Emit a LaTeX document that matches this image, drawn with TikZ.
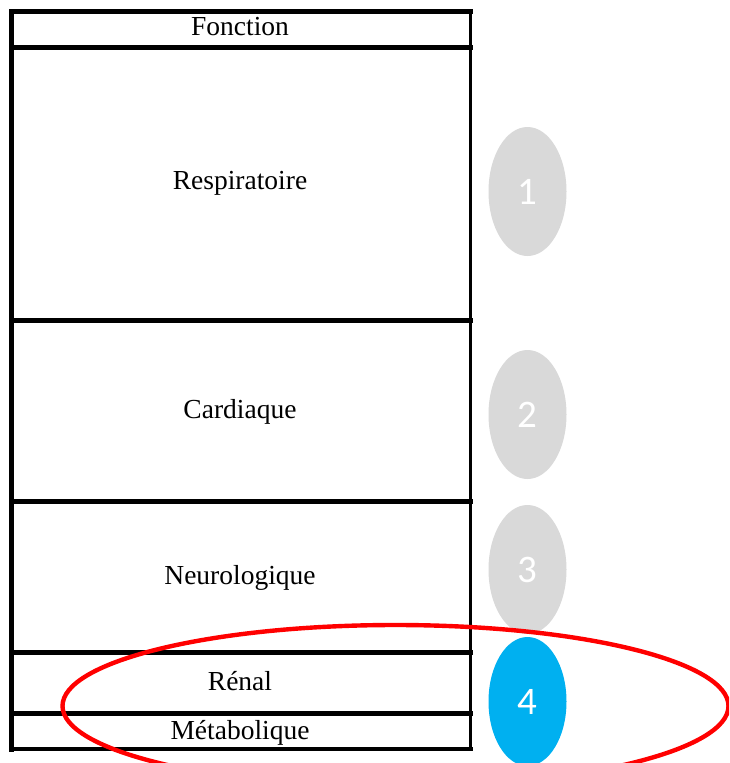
\documentclass[tikz,border=0pt]{standalone}
\usepackage{fontspec}
\setmainfont{Liberation Serif}
\newfontfamily\numfont{Carlito}
\usetikzlibrary{shapes.geometric}
\definecolor{badgegray}{HTML}{D9D9D9}
\definecolor{badgeblue}{HTML}{00B0F0}
\definecolor{markred}{HTML}{FF0000}
\tikzset{
  celltext/.style={font=\fontsize{27.5}{31}\selectfont, inner sep=0pt, text=black, anchor=base},
  rowrule/.style={line width=5pt, line cap=rect},
  badge/.style={ellipse, minimum width=78pt, minimum height=129pt, inner sep=0pt,
                font=\numfont\fontsize{39}{42}\selectfont, text=white},
  highlight/.style={ellipse, draw=markred, line width=4.4pt, minimum width=666pt,
                    minimum height=162pt, inner sep=0pt}
}
\begin{document}
\begin{tikzpicture}[x=1pt, y=-1pt]
  \useasboundingbox (0,0) rectangle (729,763);
  \clip (0,0) rectangle (729,763);
  \fill[white] (0,0) rectangle (729,763);

  % row separators and borders of the table
  \coordinate (tl) at (11.7,11.7);
  \coordinate (tr) at (470.3,11.7);
  \coordinate (bl) at (11.7,749);
  \coordinate (br) at (470.3,749);
  \draw[line width=3pt] (tr) -- (br);
  \draw[rowrule] (tl) -- (tr);
  \foreach \y in {47.5,320,501,652.5,713.5}
    \draw[rowrule] (11.7,\y) -- (470.3,\y);
  \draw[line width=4.6pt, line cap=rect] (bl) -- (br);
  \draw[line width=5pt, line cap=rect] (tl) -- (bl);

  % cell labels, placed on their baselines
  \node[celltext] (fonction) at (240,35.5) {Fonction};
  \node[celltext] (resp) at (240,189) {Respiratoire};
  \node[celltext] (card) at (240,418.5) {Cardiaque};
  \node[celltext] (neuro) at (240,584) {Neurologique};
  \node[celltext] (renal) at (240,690.5) {Rénal};
  \node[celltext] (meta) at (240,739) {Métabolique};

  % numbered badges
  \node[badge, fill=badgegray] (b1) at (527.5,191.5) {1};
  \node[badge, fill=badgegray] (b2) at (527.5,414.5) {2};
  \node[badge, fill=badgegray] (b3) at (527.5,569.5) {3};
  \node[badge, fill=badgeblue] (b4) at (527.5,701.5) {4};

  % red highlight round the last rows
  \node[highlight] (mark) at (395.5,706) {};
\end{tikzpicture}
\end{document}
